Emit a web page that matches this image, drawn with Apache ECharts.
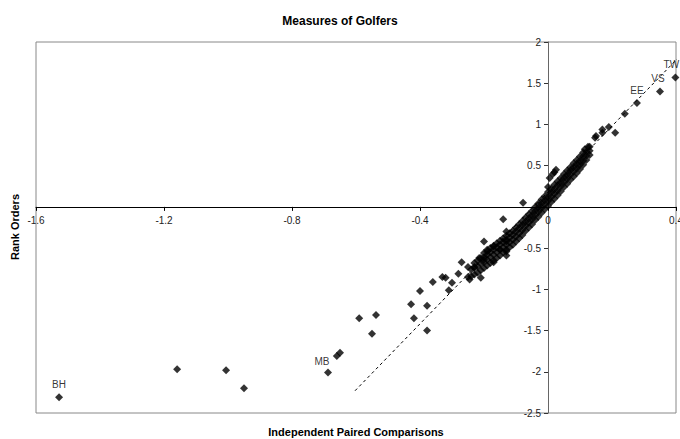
<!DOCTYPE html>
<html>
<head>
<meta charset="utf-8">
<script src="https://cdn.jsdelivr.net/npm/echarts@6/dist/echarts.min.js"></script>
<style>html,body{margin:0;padding:0;background:#fff}#c{width:680px;height:439px}</style>
</head>
<body>
<div id="c"></div>
<script>
// Axis ranges / ticks
var xTicks = [-1.6, -1.2, -0.8, -0.4, 0, 0.4];
var yTicks = [-2.5, -2, -1.5, -1, -0.5, 0, 0.5, 1, 1.5, 2];

// Labelled golfers [x, y]
var labelNames = ['BH', 'MB', 'EE', 'VS', 'TW'];
var labelPoints = [[-1.528, -2.31], [-0.6875, -2.01], [0.278, 1.26], [0.35, 1.40], [0.398, 1.57]];

// Scattered outliers [x, y]
var outlierPoints = [
  [-1.159, -1.97], [-1.006, -1.98], [-0.95, -2.20], [-0.66, -1.81], [-0.65, -1.77],
  [-0.59, -1.35], [-0.5375, -1.31], [-0.55, -1.54], [-0.428, -1.18], [-0.419, -1.35],
  [-0.378, -1.20], [-0.378, -1.50], [-0.40, -1.02], [-0.36, -0.91], [-0.33, -0.85],
  [-0.32, -0.86], [-0.31, -1.01], [-0.30, -0.92], [-0.28, -0.81], [-0.27, -0.67],
  [-0.25, -0.85], [-0.245, -0.88], [-0.25, -0.73], [-0.23, -0.73], [-0.21, -0.86],
  [-0.20, -0.42], [-0.215, -0.62], [-0.20, -0.64], [-0.19, -0.54], [-0.17, -0.48],
  [-0.17, -0.67], [-0.15, -0.52], [-0.13, -0.54], [-0.13, -0.59], [-0.14, -0.15],
  [-0.13, -0.30], [-0.13, -0.42], [-0.078, 0.05], [0.025, 0.45], [0.005, 0.35],
  [0.015, 0.40], [0.02, 0.42], [0.115, 0.70], [0.125, 0.73], [0.147, 0.84],
  [0.15, 0.86], [0.17, 0.90], [0.17, 0.94], [0.19, 0.97], [0.21, 0.90], [0.24, 1.13]
];

// Dense band of golfers [x, y]
var bandPoints = [
  [-0.24,-0.84],[-0.24,-0.76],
  [-0.23,-0.82],[-0.23,-0.74],[-0.23,-0.68],
  [-0.22,-0.80],[-0.22,-0.72],[-0.22,-0.65],
  [-0.21,-0.77],[-0.21,-0.69],[-0.21,-0.62],
  [-0.20,-0.74],[-0.20,-0.67],[-0.20,-0.61],[-0.20,-0.56],
  [-0.19,-0.71],[-0.19,-0.64],[-0.19,-0.58],[-0.19,-0.52],
  [-0.18,-0.68],[-0.18,-0.61],[-0.18,-0.55],[-0.18,-0.50],
  [-0.17,-0.65],[-0.17,-0.58],[-0.17,-0.52],[-0.17,-0.47],
  [-0.16,-0.62],[-0.16,-0.55],[-0.16,-0.49],[-0.16,-0.44],
  [-0.15,-0.59],[-0.15,-0.52],[-0.15,-0.46],[-0.15,-0.41],
  [-0.14,-0.55],[-0.14,-0.49],[-0.14,-0.43],[-0.14,-0.38],
  [-0.13,-0.52],[-0.13,-0.46],[-0.13,-0.40],[-0.13,-0.35],
  [-0.12,-0.49],[-0.12,-0.43],[-0.12,-0.37],[-0.12,-0.32],
  [-0.11,-0.46],[-0.11,-0.40],[-0.11,-0.34],[-0.11,-0.29],
  [-0.10,-0.42],[-0.10,-0.36],[-0.10,-0.30],[-0.10,-0.25],
  [-0.09,-0.38],[-0.09,-0.32],[-0.09,-0.26],[-0.09,-0.21],
  [-0.08,-0.34],[-0.08,-0.28],[-0.08,-0.22],[-0.08,-0.17],
  [-0.07,-0.29],[-0.07,-0.23],[-0.07,-0.18],[-0.07,-0.13],
  [-0.06,-0.25],[-0.06,-0.19],[-0.06,-0.14],[-0.06,-0.09],
  [-0.05,-0.21],[-0.05,-0.15],[-0.05,-0.10],[-0.05,-0.05],
  [-0.04,-0.16],[-0.04,-0.10],[-0.04,-0.05],[-0.04,0.00],
  [-0.03,-0.12],[-0.03,-0.06],[-0.03,-0.01],[-0.03,0.04],
  [-0.02,-0.07],[-0.02,-0.01],[-0.02,0.04],[-0.02,0.09],
  [-0.01,-0.03],[-0.01,0.03],[-0.01,0.08],[-0.01,0.13],
  [0.00,0.01],[0.00,0.07],[0.00,0.12],[0.00,0.18],[0.00,0.24],
  [0.01,0.06],[0.01,0.12],[0.01,0.17],[0.01,0.22],
  [0.02,0.10],[0.02,0.16],[0.02,0.21],[0.02,0.27],
  [0.03,0.14],[0.03,0.20],[0.03,0.26],[0.03,0.31],
  [0.04,0.19],[0.04,0.25],[0.04,0.30],[0.04,0.35],
  [0.05,0.24],[0.05,0.30],[0.05,0.35],[0.05,0.40],
  [0.06,0.28],[0.06,0.34],[0.06,0.39],[0.06,0.44],
  [0.07,0.33],[0.07,0.39],[0.07,0.44],[0.07,0.48],
  [0.08,0.37],[0.08,0.43],[0.08,0.48],[0.08,0.53],
  [0.09,0.41],[0.09,0.47],[0.09,0.52],[0.09,0.57],
  [0.10,0.46],[0.10,0.51],[0.10,0.56],[0.10,0.61],
  [0.11,0.51],[0.11,0.56],[0.11,0.61],[0.11,0.66],
  [0.12,0.57],[0.12,0.62],[0.12,0.67],
  [0.13,0.63],[0.13,0.68],[0.13,0.73]
];

// Linear trend line endpoints (data units)
var trendPoints = [[-0.603, -2.23], [0.41, 1.82]];

var FONT = "'Liberation Sans', Arial, sans-serif";
var chart = echarts.init(document.getElementById('c'), null, {renderer: 'svg'});

// grid geometry
var G = {left: 36, right: 4, top: 42, bottom: 26};
var gw = 680 - G.left - G.right, gh = 439 - G.top - G.bottom;
var xMin = xTicks[0], xMax = xTicks[xTicks.length - 1];
var yMin = yTicks[0], yMax = yTicks[yTicks.length - 1];
// distance of the zero lines from the grid's left/bottom edge
var xAxisOffset = -((0 - yMin) / (yMax - yMin)) * gh;
var yAxisOffset = -((0 - xMin) / (xMax - xMin)) * gw;

var labelOffsets = [[0, 0], [-6, 2], [0, 0], [-2, 0], [-4, 0]];
var labelData = labelPoints.map(function (p, i) {
  return {value: p, name: labelNames[i], label: {offset: labelOffsets[i]}};
});

chart.setOption({
  animation: false,
  backgroundColor: '#fff',
  title: {
    text: 'Measures of Golfers', left: 'center', top: 10,
    textStyle: {fontFamily: FONT, fontSize: 12, fontWeight: 'bold', color: '#000'}
  },
  grid: {left: G.left, right: G.right, top: G.top, bottom: G.bottom, show: true, borderColor: '#888', borderWidth: 1,
    containLabel: false, outerBoundsMode: 'none'},
  xAxis: {
    type: 'value', min: xMin, max: xMax, interval: 0.4, position: 'bottom', offset: xAxisOffset,
    axisLine: {onZero: false, lineStyle: {color: '#000', width: 1}},
    axisTick: {show: true, length: 4, lineStyle: {color: '#000'}},
    axisLabel: {fontFamily: FONT, fontSize: 10, color: '#222', margin: 9,
      formatter: function (v) { return String(Math.round(v * 10) / 10); }},
    splitLine: {show: false}
  },
  yAxis: {
    type: 'value', min: yMin, max: yMax, interval: 0.5, position: 'left', offset: yAxisOffset,
    axisLine: {onZero: false, lineStyle: {color: '#666', width: 1}},
    axisTick: {show: true, length: 4, lineStyle: {color: '#333'}},
    axisLabel: {fontFamily: FONT, fontSize: 10, color: '#222', margin: 7,
      formatter: function (v) { return String(Math.round(v * 10) / 10); }},
    splitLine: {show: false}
  },
  graphic: [
    {type: 'text', x: 356, y: 432, style: {text: 'Independent Paired Comparisons', fontFamily: FONT, fontSize: 11, fontWeight: 'bold', fill: '#000', align: 'center', verticalAlign: 'middle'}},
    {type: 'text', x: 15, y: 227, rotation: Math.PI / 2, style: {text: 'Rank Orders', fontFamily: FONT, fontSize: 11, fontWeight: 'bold', fill: '#000', align: 'center', verticalAlign: 'middle'}}
  ],
  series: [
    {
      type: 'line', data: trendPoints, symbol: 'none', silent: true, z: 3,
      lineStyle: {color: '#000', width: 1, type: [3, 3]}
    },
    {
      type: 'scatter', data: bandPoints, symbol: 'diamond', symbolSize: 8, z: 2,
      itemStyle: {color: '#000'}
    },
    {
      type: 'scatter', data: outlierPoints, symbol: 'diamond', symbolSize: 8, z: 2,
      itemStyle: {color: '#000'}
    },
    {
      type: 'scatter', data: labelData, symbol: 'diamond', symbolSize: 8, z: 2,
      itemStyle: {color: '#000'},
      label: {show: true, position: 'top', distance: 4, formatter: '{b}', fontFamily: FONT, fontSize: 10, color: '#000'}
    }
  ]
});
</script>
</body>
</html>
